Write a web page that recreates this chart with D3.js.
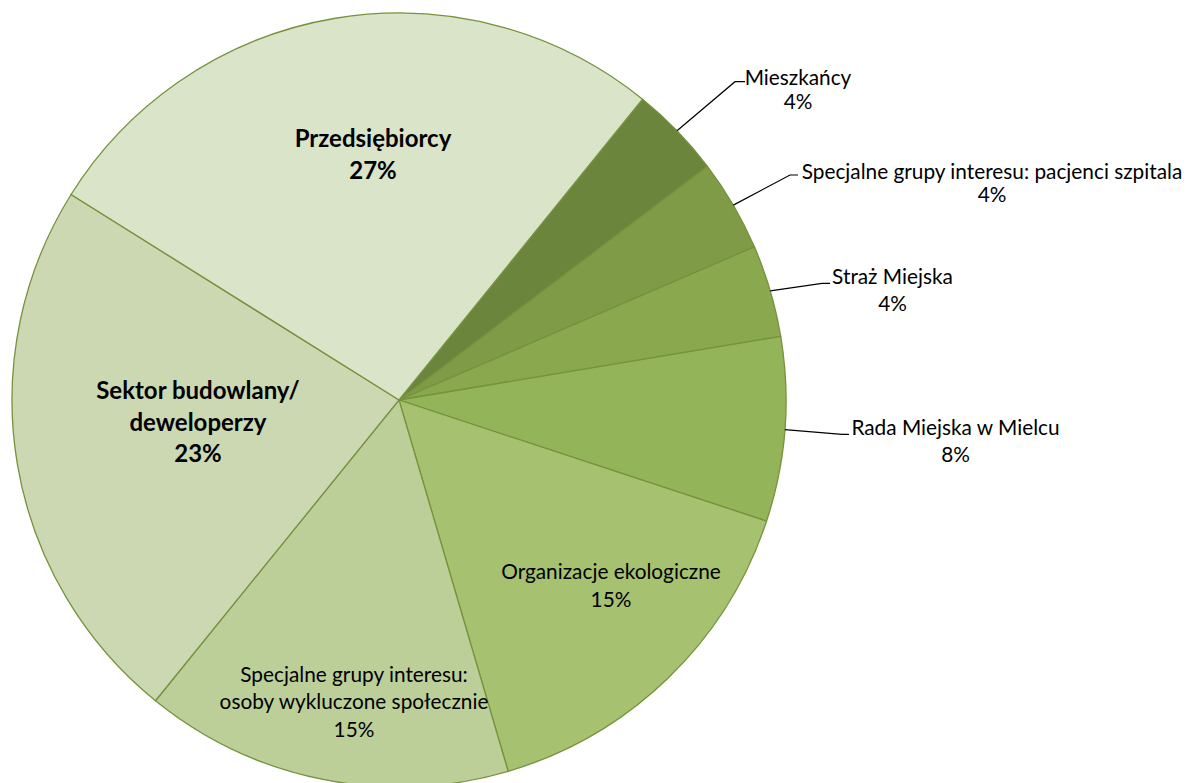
<!DOCTYPE html>
<html>
<head>
<meta charset="utf-8">
<script src="https://cdn.jsdelivr.net/npm/d3@7"></script>
<style>
  body { margin: 0; background: #fff; }
  svg { display: block; }
</style>
</head>
<body>
<svg id="chart"></svg>
<script>
// slices, clockwise from the Mieszkańcy wedge
const categories = [
  'Mieszkańcy',
  'Specjalne grupy interesu: pacjenci szpitala',
  'Straż Miejska',
  'Rada Miejska w Mielcu',
  'Organizacje ekologiczne',
  'Specjalne grupy interesu: osoby wykluczone społecznie',
  'Sektor budowlany/ deweloperzy',
  'Przedsiębiorcy'
];
const counts = [1, 1, 1, 2, 4, 4, 6, 7];
const labelLines = [
  ['Mieszkańcy'],
  ['Specjalne grupy interesu: pacjenci szpitala'],
  ['Straż Miejska'],
  ['Rada Miejska w Mielcu'],
  ['Organizacje ekologiczne'],
  ['Specjalne grupy interesu:', 'osoby wykluczone społecznie'],
  ['Sektor budowlany/', 'deweloperzy'],
  ['Przedsiębiorcy']
];
const sliceColors = ['#6b853d', '#7f9b48', '#8aa94f', '#94b45a', '#a6c170', '#bccf99', '#cbd8b2', '#dae4c9'];

const width = 1187, height = 783;
const cx = 399, cy = 400, radius = 387;

const svg = d3.select('#chart')
  .attr('width', width)
  .attr('height', height);

const g = svg.append('g').attr('transform', `translate(${cx},${cy})`);

const start = 39 * Math.PI / 180;
const pie = d3.pie().sort(null).value(d => d).startAngle(start).endAngle(start + 2 * Math.PI);
const arc = d3.arc().innerRadius(0).outerRadius(radius);
const arcs = pie(counts);
const total = d3.sum(counts);

g.selectAll('path')
  .data(arcs)
  .enter()
  .append('path')
  .attr('d', arc)
  .attr('fill', (d, i) => sliceColors[i])
  .attr('stroke', '#76923c')
  .attr('stroke-width', 1.3);

// label layout: centre x, first baseline, line step, bold, leader elbow/end
const layout = [
  { x: 798, y: 85, step: 23.5, leader: [[735, 81.7], [745, 81.7]] },
  { x: 992, y: 178.5, step: 23.5, leader: [[790, 175], [798, 175]] },
  { x: 892.5, y: 283.5, step: 27, leader: [[822, 283.3], [830, 283.3]] },
  { x: 955.5, y: 435, step: 26.7, leader: [[842, 434.3], [849, 434.3]] },
  { x: 611, y: 579, step: 28 },
  { x: 354, y: 681.7, step: 27.5 },
  { x: 198, y: 399.3, step: 31.2, bold: true },
  { x: 373, y: 147.3, step: 31.7, bold: true }
];

// leader lines from the slice edge at its mid angle
arcs.forEach((d, i) => {
  const L = layout[i];
  if (!L.leader) return;
  const a = (d.startAngle + d.endAngle) / 2;
  const p0 = [cx + radius * Math.sin(a), cy - radius * Math.cos(a)];
  svg.append('path')
    .attr('d', d3.line()([p0, ...L.leader]))
    .attr('fill', 'none')
    .attr('stroke', '#000')
    .attr('stroke-width', 1.2);
});

arcs.forEach((d, i) => {
  const L = layout[i];
  const pct = Math.round(d.value / total * 100) + '%';
  const lines = labelLines[i].concat([pct]);
  const t = svg.append('text')
    .attr('text-anchor', 'middle')
    .attr('font-family', 'Lato, "Open Sans", sans-serif')
    .attr('font-size', L.bold ? 24 : 20.8)
    .attr('font-weight', L.bold ? 'bold' : 'normal')
    .attr('fill', '#000');
  lines.forEach((s, k) => {
    t.append('tspan')
      .attr('x', L.x)
      .attr('y', L.y + k * L.step)
      .text(s);
  });
});
</script>
</body>
</html>
